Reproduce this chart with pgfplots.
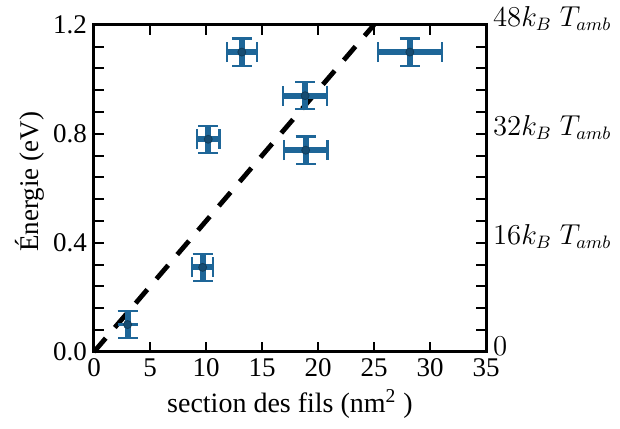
\documentclass[border=0pt]{standalone}
\usepackage[no-math]{fontspec}
\setmainfont{Liberation Serif}
\usepackage{pgfplots}
\pgfplotsset{compat=1.18}
\definecolor{ebblue}{RGB}{30,102,152}
\begin{document}
\begin{tikzpicture}
\begin{axis}[
  scale only axis,
  width=196pt, height=163.5pt,
  xmin=0, xmax=35, ymin=0, ymax=1.2,
  font=\fontsize{13.5}{16}\selectfont,
  /pgf/number format/assume math mode=true,
  axis line style={line width=1.5pt},
  every tick/.style={black, line width=1pt},
  tick align=inside,
  major tick length=5pt, minor tick length=5pt,
  xtick={0,5,...,35},
  ytick={0,0.4,0.8,1.2},
  minor y tick num=4,
  ytick pos=left,
  yticklabel style={/pgf/number format/.cd, fixed, fixed zerofill, precision=1},
  xlabel={section des fils (nm\textsuperscript{2} )},
  ylabel={Énergie (eV)},
  xlabel style={at={(axis description cs:0.5,-0.16)}, anchor=center, font=\fontsize{14}{16}\selectfont},
  ylabel style={at={(axis description cs:-0.163,0.52)}, anchor=center},
  clip=false,
]
\coordinate (O) at (rel axis cs:0,0);
\addplot[black, line width=2.4pt, dash pattern=on 9pt off 7pt] coordinates {(0,0) (25,1.2)};
\addplot[
  only marks, mark=*, mark size=2pt, color=ebblue,
  mark options={draw=ebblue!60!black, fill=ebblue!75!black},
  error bars/.cd,
    x dir=both, x explicit,
    y dir=both, y explicit,
    error bar style={line width=3pt, color=ebblue},
    error mark options={rotate=90, line width=1.1pt, mark size=5pt, color=ebblue},
] table[x=x, y=y, x error=ex, y error=ey] {
x     y     ex    ey
3.0   0.10  0.0   0.05
9.7   0.31  0.95  0.05
10.2  0.78  1.0   0.05
13.2  1.10  1.35  0.05
18.85 0.94  1.95  0.05
18.9  0.74  1.95  0.05
28.2  1.10  2.85  0.05
};
\end{axis}
\begin{axis}[
  scale only axis,
  width=196pt, height=163.5pt,
  xmin=0, xmax=35, ymin=0, ymax=1.2,
  font=\fontsize{13.5}{16}\selectfont,
  axis x line=none,
  axis y line*=right,
  axis line style={line width=1.5pt},
  every tick/.style={black, line width=1pt},
  tick align=inside,
  major tick length=5pt, minor tick length=5pt,
  ytick={0,0.4,0.8,1.2},
  minor y tick num=4,
  yticklabel style={yshift=3pt},
  yticklabels={$0$, $16k_B\;T_{amb}$, $32k_B\;T_{amb}$, $48k_B\;T_{amb}$},
]
\addplot[draw=none] coordinates {(0,0)};
\end{axis}
\path (O) ++(-47pt,-38.5pt) rectangle ++(310pt,214pt);
\end{tikzpicture}
\end{document}
